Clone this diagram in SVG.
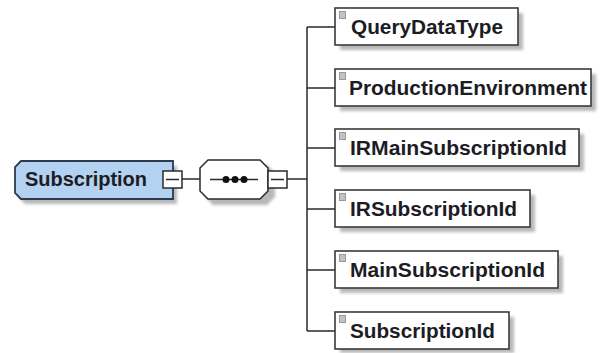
<svg xmlns="http://www.w3.org/2000/svg" width="602" height="353" viewBox="0 0 602 353">
<defs>
<filter id="blur" x="-10%" y="-10%" width="130%" height="140%"><feGaussianBlur stdDeviation="1.5"/></filter>
<g id="icon"><rect x="0" y="0" width="7" height="8" fill="#9a9a9a"/><path d="M1 2H6M1 4H6M1 6H6" stroke="#ffffff" stroke-width="0.8"/></g>
</defs>
<style>
.shadow{fill:#b8b8b8;filter:url(#blur)}
.box{fill:#ffffff;stroke:#3a3a3a;stroke-width:1.6}
.lbl{font-family:"Liberation Sans",Arial,sans-serif;font-weight:bold;font-size:20px;fill:#1c1c24}
.conn{fill:none;stroke:#2a2a2a;stroke-width:1.5}
</style>
<rect width="602" height="353" fill="#ffffff"/>
<g id="connectors">
<path class="conn" d="M182 179H201M268 179H307M307 27V331"/>
<path class="conn" d="M307 27H335M307 88H335M307 148H335M307 209H335M307 270H335M307 331H335"/>
</g>
<g id="subscription">
<polygon class="shadow" points="25,166 177,166 177,204 25,204 19,198 19,172"/>
<polygon points="21,161 173,161 173,199 21,199 15,193 15,167" fill="#b3d1f1" stroke="#2c3a4e" stroke-width="1.8"/>
<text class="lbl" x="25" y="186" textLength="122" lengthAdjust="spacingAndGlyphs" fill="#1e2a44">Subscription</text>
<rect x="163" y="171" width="19" height="17" fill="#ffffff" stroke="#2a2a2a" stroke-width="1.5"/>
<path d="M166 179.5H179" stroke="#2a2a2a" stroke-width="1.5"/>
</g>
<g id="sequence">
<polygon class="shadow" points="213,165 267,165 275,173 275,197 267,205 213,205 205,197 205,173"/>
<polygon points="208,160 260,160 268,168 268,191 260,199 208,199 200,191 200,168" fill="#ffffff" stroke="#2a2a2a" stroke-width="1.5"/>
<path d="M210 179.5H258" stroke="#2a2a2a" stroke-width="1.5"/>
<circle cx="226" cy="179.5" r="3.5" fill="#111"/>
<circle cx="235" cy="179.5" r="3.5" fill="#111"/>
<circle cx="244" cy="179.5" r="3.5" fill="#111"/>
<rect x="268" y="171" width="19" height="17" fill="#ffffff" stroke="#2a2a2a" stroke-width="1.5"/>
<path d="M271 179.5H284" stroke="#2a2a2a" stroke-width="1.5"/>
</g>
<g id="QueryDataType">
<rect class="shadow" x="340" y="13" width="183" height="37"/>
<rect class="box" x="335" y="8" width="183" height="37"/>
<use href="#icon" x="339" y="11"/>
<text class="lbl" x="351" y="34" textLength="152" lengthAdjust="spacingAndGlyphs">QueryDataType</text>
</g>
<g id="ProductionEnvironment">
<rect class="shadow" x="340" y="74" width="256" height="37"/>
<rect class="box" x="335" y="69" width="256" height="37"/>
<use href="#icon" x="339" y="72"/>
<text class="lbl" x="349" y="95" textLength="238" lengthAdjust="spacingAndGlyphs">ProductionEnvironment</text>
</g>
<g id="IRMainSubscriptionId">
<rect class="shadow" x="340" y="134" width="244" height="37"/>
<rect class="box" x="335" y="129" width="244" height="37"/>
<use href="#icon" x="339" y="132"/>
<text class="lbl" x="350" y="155" textLength="217" lengthAdjust="spacingAndGlyphs">IRMainSubscriptionId</text>
</g>
<g id="IRSubscriptionId">
<rect class="shadow" x="340" y="195" width="195" height="37"/>
<rect class="box" x="335" y="190" width="195" height="37"/>
<use href="#icon" x="339" y="193"/>
<text class="lbl" x="350" y="216" textLength="167" lengthAdjust="spacingAndGlyphs">IRSubscriptionId</text>
</g>
<g id="MainSubscriptionId">
<rect class="shadow" x="340" y="256" width="223" height="37"/>
<rect class="box" x="335" y="251" width="223" height="37"/>
<use href="#icon" x="339" y="254"/>
<text class="lbl" x="350" y="277" textLength="195" lengthAdjust="spacingAndGlyphs">MainSubscriptionId</text>
</g>
<g id="SubscriptionId">
<rect class="shadow" x="340" y="317" width="174" height="36"/>
<rect class="box" x="335" y="312" width="174" height="37"/>
<use href="#icon" x="339" y="315"/>
<text class="lbl" x="350" y="338" textLength="145" lengthAdjust="spacingAndGlyphs">SubscriptionId</text>
</g>
</svg>
